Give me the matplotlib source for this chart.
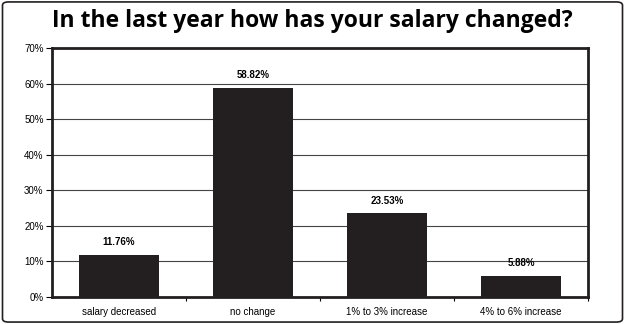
import numpy as np
import matplotlib.pyplot as plt
from matplotlib.patches import FancyBboxPatch

# Salary change survey
categories = ['salary decreased', 'no change', '1% to 3% increase', '4% to 6% increase']
values = [11.76, 58.82, 23.53, 5.88]
yticks = [0, 10, 20, 30, 40, 50, 60, 70]

fig = plt.figure(figsize=(6.25, 3.24), dpi=100)
ax = fig.add_axes([0.0832, 0.0833, 0.8576, 0.7685])

x = np.arange(len(categories))
ax.bar(x, values, width=0.6, color='#231f20', zorder=3)
for xi, v in zip(x, values):
    ax.text(xi, v + 3.6, '%.2f%%' % v, ha='center', va='center',
            fontsize=7, fontweight='bold', family='Liberation Sans')

ax.set_xlim(-0.5, 3.5)
ax.set_ylim(0, 70)
ax.set_yticks(yticks)
ax.set_yticklabels(['%d%%' % t for t in yticks], family='Liberation Sans', fontsize=7)
ax.set_xticks(x + 0.5)
ax.set_xticklabels([])
ax.set_xticks(x, minor=True)
ax.set_xticklabels(categories, minor=True, family='Liberation Sans', fontsize=7)
ax.tick_params(axis='x', which='minor', length=0, pad=7)
ax.tick_params(axis='x', which='major', length=3, width=0.8, direction='out')
ax.tick_params(axis='y', length=4, width=0.8, pad=2)
ax.grid(axis='y', color='#444444', linewidth=0.8, zorder=1)
for s in ax.spines.values():
    s.set_linewidth(2)
    s.set_color('#231f20')

fig.text(0.5, 0.935, 'In the last year how has your salary changed?',
         ha='center', va='center', fontsize=16.5, fontweight='bold', family='Open Sans')

border = FancyBboxPatch((0.004, 0.006), 0.992, 0.988, boxstyle='round,pad=0,rounding_size=0.01',
                        transform=fig.transFigure, fill=False, edgecolor='#231f20', linewidth=1.2)
fig.patches.append(border)

fig.savefig('out.png', dpi=100)
